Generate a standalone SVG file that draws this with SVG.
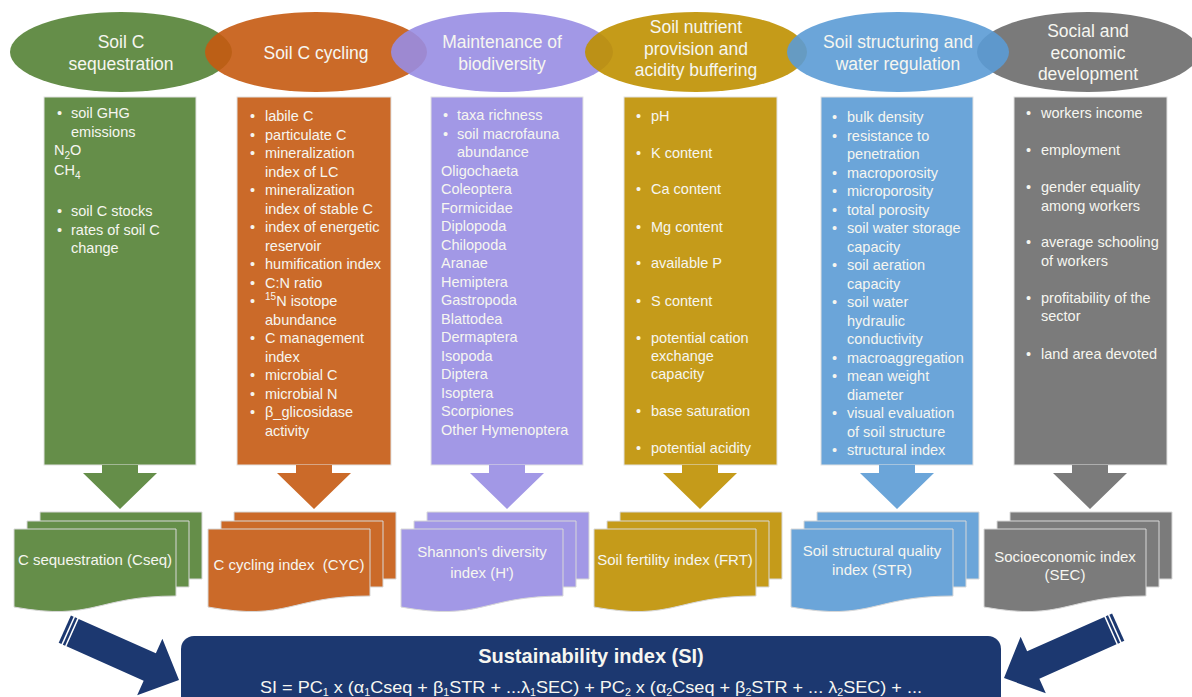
<svg xmlns="http://www.w3.org/2000/svg" xmlns:xlink="http://www.w3.org/1999/xlink" width="1192" height="697" viewBox="0 0 1192 697">
<defs>
<style>
text{font-family:"Liberation Sans",Arial,sans-serif;fill:#F6F6F0;}
.eh{font-size:17.5px;text-anchor:middle;}
.li{font-size:14.5px;}
.dl{font-size:15px;text-anchor:middle;}
.ell{fill-opacity:0.9;}
.col{stroke:#E2E2E2;stroke-width:1;}
.doc{stroke:#D8D8D8;stroke-width:1;}
.sub{font-size:10px;}
</style>
<g id="docs">
<path class="doc" d="M-80,512 H82 V579 H-80 Z"/>
<path class="doc" d="M-93,521 H69 V587 H-93 Z"/>
<path class="doc" d="M-106,529 H56 V596 C-25,596 -25,621.7 -106,607 Z"/>
</g>
<path id="dn" d="M-18,465 H18 V473 H37 L0,509 L-37,473 H-18 Z"/>
<g id="bigarrow">
<path d="M-125,-15 h3 v30 h-3 Z"/>
<path d="M-120.5,-15 h2.5 v30 h-2.5 Z"/>
<path d="M-116.5,-15 H-32 V-31 L0,0 L-32,31 V15 H-116.5 Z"/>
</g>
</defs>
<rect width="1192" height="697" fill="#FFFFFF"/>

<g id="node-cseq">
<ellipse class="ell" cx="121" cy="52" rx="111" ry="40" fill="#548235"/>
<text class="eh" x="121" y="48">Soil C</text>
<text class="eh" x="121" y="70">sequestration</text>
<rect class="col" x="44" y="97" width="152" height="368" fill="#658E49"/>
<g class="li">
<text x="57" y="118">•</text><text x="71" y="118">soil GHG</text>
<text x="71" y="137">emissions</text>
<text x="54" y="155">N<tspan class="sub" dy="4">2</tspan><tspan dy="-4">O</tspan></text>
<text x="54" y="175">CH<tspan class="sub" dy="4">4</tspan></text>
<text x="57" y="216">•</text><text x="71" y="216">soil C stocks</text>
<text x="57" y="235">•</text><text x="71" y="235">rates of soil C</text>
<text x="71" y="253">change</text>
</g>
<use xlink:href="#dn" x="120" fill="#658E49"/>
<use xlink:href="#docs" x="120" fill="#658E49"/>
<text class="dl" x="95" y="565">C sequestration (Cseq)</text>
</g>

<g id="node-cyc">
<ellipse class="ell" cx="316" cy="52" rx="111" ry="40" fill="#C55A11"/>
<text class="eh" x="316" y="59">Soil C cycling</text>
<rect class="col" x="237" y="97" width="154" height="368" fill="#CB6A29"/>
<g class="li">
<text x="250" y="121">•</text><text x="265" y="121">labile C</text>
<text x="250" y="139.5">•</text><text x="265" y="139.5">particulate C</text>
<text x="250" y="158">•</text><text x="265" y="158">mineralization</text>
<text x="265" y="176.5">index of LC</text>
<text x="250" y="195">•</text><text x="265" y="195">mineralization</text>
<text x="265" y="213.5">index of stable C</text>
<text x="250" y="232">•</text><text x="265" y="232">index of energetic</text>
<text x="265" y="250.5">reservoir</text>
<text x="250" y="269">•</text><text x="265" y="269">humification index</text>
<text x="250" y="287.5">•</text><text x="265" y="287.5">C:N ratio</text>
<text x="250" y="306">•</text><text x="265" y="306"><tspan class="sub" dy="-6">15</tspan><tspan dy="6">N isotope</tspan></text>
<text x="265" y="324.5">abundance</text>
<text x="250" y="343">•</text><text x="265" y="343">C management</text>
<text x="265" y="361.5">index</text>
<text x="250" y="380">•</text><text x="265" y="380">microbial C</text>
<text x="250" y="398.5">•</text><text x="265" y="398.5">microbial N</text>
<text x="250" y="417">•</text><text x="265" y="417">β_glicosidase</text>
<text x="265" y="435.5">activity</text>
</g>
<use xlink:href="#dn" x="314" fill="#CB6A29"/>
<use xlink:href="#docs" x="314" fill="#CB6A29"/>
<text class="dl" x="289" y="570" xml:space="preserve">C cycling index  (CYC)</text>
</g>

<g id="node-bio">
<ellipse class="ell" cx="502" cy="52" rx="111" ry="40" fill="#988DE3"/>
<text class="eh" x="502" y="48">Maintenance of</text>
<text class="eh" x="502" y="70">biodiversity</text>
<rect class="col" x="431" y="97" width="152" height="368" fill="#A298E6"/>
<g class="li">
<text x="443" y="120">•</text><text x="457" y="120">taxa richness</text>
<text x="443" y="138.5">•</text><text x="457" y="138.5">soil macrofauna</text>
<text x="457" y="157">abundance</text>
<text x="441" y="175.5">Oligochaeta</text>
<text x="441" y="194">Coleoptera</text>
<text x="441" y="212.5">Formicidae</text>
<text x="441" y="231">Diplopoda</text>
<text x="441" y="249.5">Chilopoda</text>
<text x="441" y="268">Aranae</text>
<text x="441" y="286.5">Hemiptera</text>
<text x="441" y="305">Gastropoda</text>
<text x="441" y="323.5">Blattodea</text>
<text x="441" y="342">Dermaptera</text>
<text x="441" y="360.5">Isopoda</text>
<text x="441" y="379">Diptera</text>
<text x="441" y="397.5">Isoptera</text>
<text x="441" y="416">Scorpiones</text>
<text x="441" y="434.5">Other Hymenoptera</text>
</g>
<use xlink:href="#dn" x="507" fill="#A298E6"/>
<use xlink:href="#docs" x="507" fill="#A298E6"/>
<text class="dl" x="482" y="557">Shannon's diversity</text>
<text class="dl" x="482" y="578">index (H')</text>
</g>

<g id="node-frt">
<ellipse class="ell" cx="696" cy="52" rx="111" ry="40" fill="#BF9000"/>
<text class="eh" x="696" y="33">Soil nutrient</text>
<text class="eh" x="696" y="55">provision and</text>
<text class="eh" x="696" y="76">acidity buffering</text>
<rect class="col" x="624" y="97" width="153" height="368" fill="#C59B1A"/>
<g class="li">
<text x="636" y="121">•</text><text x="651" y="121">pH</text>
<text x="636" y="158">•</text><text x="651" y="158">K content</text>
<text x="636" y="194">•</text><text x="651" y="194">Ca content</text>
<text x="636" y="232">•</text><text x="651" y="232">Mg content</text>
<text x="636" y="268">•</text><text x="651" y="268">available P</text>
<text x="636" y="306">•</text><text x="651" y="306">S content</text>
<text x="636" y="343">•</text><text x="651" y="343">potential cation</text>
<text x="651" y="361">exchange</text>
<text x="651" y="379">capacity</text>
<text x="636" y="416">•</text><text x="651" y="416">base saturation</text>
<text x="636" y="453">•</text><text x="651" y="453">potential acidity</text>
</g>
<use xlink:href="#dn" x="700" fill="#C59B1A"/>
<use xlink:href="#docs" x="700" fill="#C59B1A"/>
<text class="dl" x="675" y="565">Soil fertility index (FRT)</text>
</g>

<g id="node-sec">
<ellipse class="ell" cx="1088" cy="52" rx="111" ry="40" fill="#6B6B6B"/>
<text class="eh" x="1088" y="37">Social and</text>
<text class="eh" x="1088" y="59">economic</text>
<text class="eh" x="1088" y="80">development</text>
<rect class="col" x="1014" y="97" width="153" height="368" fill="#7B7B7B"/>
<g class="li">
<text x="1026" y="118">•</text><text x="1041" y="118">workers income</text>
<text x="1026" y="155">•</text><text x="1041" y="155">employment</text>
<text x="1026" y="192">•</text><text x="1041" y="192">gender equality</text>
<text x="1041" y="211">among workers</text>
<text x="1026" y="247">•</text><text x="1041" y="247">average schooling</text>
<text x="1041" y="266">of workers</text>
<text x="1026" y="303">•</text><text x="1041" y="303">profitability of the</text>
<text x="1041" y="321">sector</text>
<text x="1026" y="359">•</text><text x="1041" y="359">land area devoted</text>
</g>
<use xlink:href="#dn" x="1090" fill="#7B7B7B"/>
<use xlink:href="#docs" x="1090" fill="#7B7B7B"/>
<text class="dl" x="1065" y="562">Socioeconomic index</text>
<text class="dl" x="1065" y="580">(SEC)</text>
</g>

<g id="node-str">
<ellipse class="ell" cx="898" cy="52" rx="111" ry="40" fill="#5B9BD5"/>
<text class="eh" x="898" y="48">Soil structuring and</text>
<text class="eh" x="898" y="70">water regulation</text>
<rect class="col" x="821" y="97" width="152" height="368" fill="#6BA5D9"/>
<g class="li">
<text x="832" y="122">•</text><text x="847" y="122">bulk density</text>
<text x="832" y="140.5">•</text><text x="847" y="140.5">resistance to</text>
<text x="847" y="159">penetration</text>
<text x="832" y="177.5">•</text><text x="847" y="177.5">macroporosity</text>
<text x="832" y="196">•</text><text x="847" y="196">microporosity</text>
<text x="832" y="214.5">•</text><text x="847" y="214.5">total porosity</text>
<text x="832" y="233">•</text><text x="847" y="233">soil water storage</text>
<text x="847" y="251.5">capacity</text>
<text x="832" y="270">•</text><text x="847" y="270">soil aeration</text>
<text x="847" y="288.5">capacity</text>
<text x="832" y="307">•</text><text x="847" y="307">soil water</text>
<text x="847" y="325.5">hydraulic</text>
<text x="847" y="344">conductivity</text>
<text x="832" y="362.5">•</text><text x="847" y="362.5">macroaggregation</text>
<text x="832" y="381">•</text><text x="847" y="381">mean weight</text>
<text x="847" y="399.5">diameter</text>
<text x="832" y="418">•</text><text x="847" y="418">visual evaluation</text>
<text x="847" y="436.5">of soil structure</text>
<text x="832" y="455">•</text><text x="847" y="455">structural index</text>
</g>
<use xlink:href="#dn" x="897" fill="#6BA5D9"/>
<use xlink:href="#docs" x="897" fill="#6BA5D9"/>
<text class="dl" x="872" y="556">Soil structural quality</text>
<text class="dl" x="872" y="575">index (STR)</text>
</g>

<g id="node-si">
<rect x="181" y="636" width="820" height="80" rx="13" fill="#1C3870"/>
<text x="591" y="663" style="font-size:20px;font-weight:bold;text-anchor:middle;">Sustainability index (SI)</text>
<text x="260" y="693" textLength="662" lengthAdjust="spacingAndGlyphs" style="font-size:17px;">SI = PC<tspan class="sub" dy="3">1</tspan><tspan dy="-3"> x (α</tspan><tspan class="sub" dy="3">1</tspan><tspan dy="-3">Cseq + β</tspan><tspan class="sub" dy="3">1</tspan><tspan dy="-3">STR + ...λ</tspan><tspan class="sub" dy="3">1</tspan><tspan dy="-3">SEC) + PC</tspan><tspan class="sub" dy="3">2</tspan><tspan dy="-3"> x (α</tspan><tspan class="sub" dy="3">2</tspan><tspan dy="-3">Cseq + β</tspan><tspan class="sub" dy="3">2</tspan><tspan dy="-3">STR + ... λ</tspan><tspan class="sub" dy="3">2</tspan><tspan dy="-3">SEC) + ...</tspan></text>
</g>

<g id="connectors" fill="#1C3870">
<use xlink:href="#bigarrow" transform="translate(179,680) rotate(24)"/>
<use xlink:href="#bigarrow" transform="translate(1004,678) rotate(156)"/>
</g>
</svg>
